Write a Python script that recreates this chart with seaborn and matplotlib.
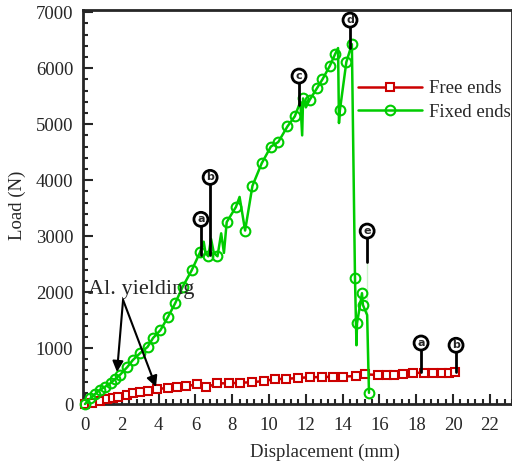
import matplotlib
matplotlib.use("Agg")
import matplotlib.pyplot as plt
from matplotlib.ticker import MultipleLocator
import seaborn as sns
import pandas as pd

# Free ends specimen: displacement (mm) and load (N)
free_disp = [0.0, 0.4, 0.8, 1.2, 1.5, 1.8, 2.3, 2.6, 3.0, 3.4, 3.9, 4.5, 5.0, 5.5,
             6.1, 6.6, 7.2, 7.8, 8.4, 9.1, 9.7, 10.3, 10.9, 11.6, 12.2, 12.9, 13.5,
             14.0, 14.7, 15.2, 15.9, 16.4, 16.8, 17.3, 17.8, 18.4, 18.9, 19.4, 19.8, 20.1]
free_load = [0, 20, 60, 90, 110, 125, 160, 190, 210, 240, 270, 285, 300, 320,
             350, 300, 370, 370, 380, 390, 410, 445, 450, 465, 480, 480, 490,
             490, 500, 530, 520, 520, 520, 535, 555, 560, 560, 555, 560, 565]

# Fixed ends specimen: displacement (mm) and load (N)
fixed_disp = [0.0, 0.15, 0.3, 0.55, 0.8, 1.1, 1.4, 1.65, 1.9, 2.3, 2.6, 3.0, 3.4, 3.7,
              4.1, 4.5, 4.9, 5.3, 5.8, 6.25, 6.45, 6.55, 6.7, 6.85, 7.0, 7.2, 7.4,
              7.55, 7.7, 8.2, 8.4, 8.7, 9.1, 9.6, 10.1, 10.5, 11.0, 11.4, 11.7, 11.8,
              11.85, 12.0, 12.2, 12.6, 12.9, 13.3, 13.6, 13.75, 13.8, 13.85, 14.2, 14.5,
              14.67, 14.75, 14.78, 15.05, 15.1, 15.33, 15.33, 15.43]
fixed_load = [0, 50, 100, 180, 250, 310, 375, 450, 520, 660, 785, 910, 1020, 1180,
              1320, 1550, 1800, 2090, 2390, 2710, 2900, 2700, 2640, 2950, 2700, 2640, 3050,
              2700, 3250, 3520, 3700, 3100, 3900, 4300, 4600, 4680, 4960, 5140, 5400, 4800,
              5460, 5300, 5430, 5640, 5800, 6040, 6260, 6360, 5020, 5250, 6110, 6430,
              2250, 1050, 1440, 1980, 1770, 2540, 640, 200]
# vertices of the fixed-ends curve that carry a marker
fixed_marked = [0, 2, 3, 4, 5, 6, 7, 8, 9, 10, 11, 12, 13, 14, 15, 16, 17, 18, 19,
                22, 25, 28, 29, 31, 32, 33, 34, 35, 36, 37, 40, 42, 43, 44, 45, 46,
                49, 50, 51, 52, 54, 55, 56, 58]

# Stage labels: (letter, displacement, load at curve, load at label)
fixed_stage_letters = ["a", "b", "c", "d", "e"]
fixed_stage_x = [6.3, 6.8, 11.63, 14.4, 15.33]
fixed_stage_base = [2660, 2660, 5340, 6360, 2540]
fixed_stage_top = [3300, 4050, 5860, 6860, 3090]

free_stage_letters = ["a", "b"]
free_stage_x = [18.26, 20.16]
free_stage_base = [570, 570]
free_stage_top = [1090, 1050]

x_ticks = list(range(0, 23, 2))
y_ticks = list(range(0, 7001, 1000))

sns.set_theme(style="ticks")
plt.rcParams["font.family"] = ["Liberation Serif", "DejaVu Serif"]
plt.rcParams["axes.linewidth"] = 2

RED = "#cc0000"
GREEN = "#00cc00"

fig = plt.figure(figsize=(5.12, 4.66), dpi=100)
ax = fig.add_axes([0.162, 0.133, 0.838, 0.8455])

free_df = pd.DataFrame({"Displacement": free_disp, "Load": free_load})
fixed_df = pd.DataFrame({"Displacement": fixed_disp, "Load": fixed_load})

sns.lineplot(data=free_df, x="Displacement", y="Load", sort=False, ax=ax,
             color=RED, lw=1.8, marker="s", markersize=5.5, markerfacecolor="white",
             markeredgecolor=RED, markeredgewidth=1.5, label="Free ends",
             clip_on=False, zorder=3)
sns.lineplot(data=fixed_df, x="Displacement", y="Load", sort=False, ax=ax,
             color=GREEN, lw=1.8, marker="o", markersize=7, markerfacecolor="none",
             markeredgecolor=GREEN, markeredgewidth=1.5, markevery=fixed_marked,
             label="Fixed ends", clip_on=False, zorder=4)


def stage_marker(letter, x, y0, y1):
    ax.plot([x, x], [y0, y1], color="black", lw=2, zorder=5)
    ax.text(x, y1, letter, ha="center", va="center", fontsize=8, fontweight="bold",
            family="DejaVu Sans", zorder=6,
            bbox=dict(boxstyle="circle,pad=0.18", fc="white", ec="black", lw=2))


for s, x, b, t in zip(fixed_stage_letters, fixed_stage_x, fixed_stage_base, fixed_stage_top):
    stage_marker(s, x, b, t)
for s, x, b, t in zip(free_stage_letters, free_stage_x, free_stage_base, free_stage_top):
    stage_marker(s, x, b, t)

# Aluminium yielding callout
ax.text(0.16, 2040, "Al. yielding", fontsize=16, ha="left", va="center", zorder=7)
for tip in [(1.74, 571), (3.86, 304)]:
    ax.annotate("", xy=tip, xytext=(2.07, 1860),
                arrowprops=dict(arrowstyle="-|>", color="black", lw=1.5,
                                mutation_scale=16, shrinkA=0, shrinkB=0), zorder=7)

ax.set_xlim(-0.11, 23.2)
ax.set_ylim(0, 7040)
ax.set_xticks(x_ticks)
ax.set_yticks(y_ticks)
ax.xaxis.set_minor_locator(MultipleLocator(0.4))
ax.yaxis.set_minor_locator(MultipleLocator(200))
ax.tick_params(which="both", direction="in", width=1.5, labelsize=13.5,
               top=False, right=False)
ax.tick_params(which="major", length=7)
ax.tick_params(which="minor", length=3.5)
ax.tick_params(axis="x", pad=9)
ax.tick_params(axis="y", pad=7)

ax.set_xlabel("Displacement (mm)", fontsize=13.5)
ax.set_ylabel("Load (N)", fontsize=13.5)
ax.xaxis.set_label_coords(0.564, -0.122)
ax.yaxis.set_label_coords(-0.152, 0.505)
ax.xaxis.label.set_va("center")
ax.yaxis.label.set_va("center")

ax.legend(loc="upper left", bbox_to_anchor=(0.641, 0.822), frameon=False,
          fontsize=13.5, handlelength=3.4, handletextpad=0.4, labelspacing=0.35,
          borderpad=0, borderaxespad=0)

fig.savefig("out.png", dpi=100)
